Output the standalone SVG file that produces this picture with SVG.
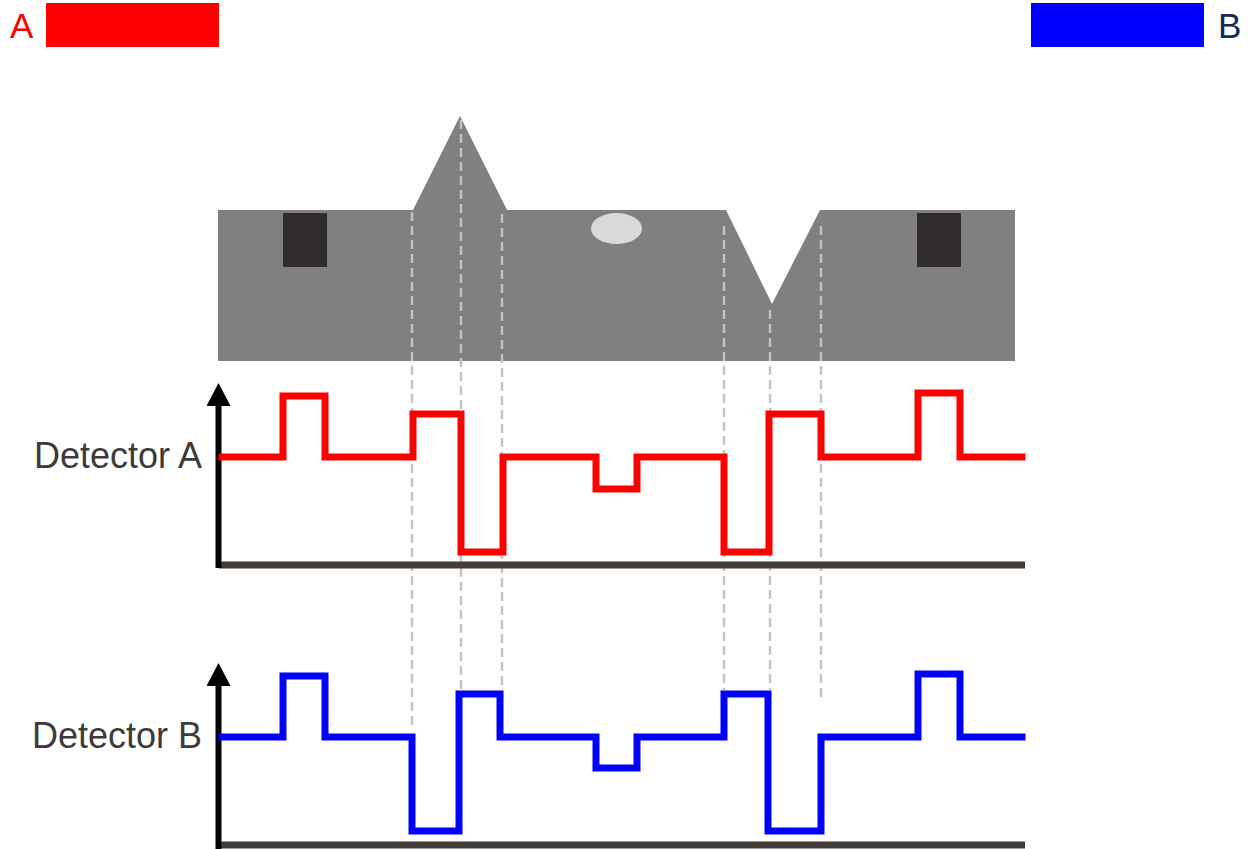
<svg xmlns="http://www.w3.org/2000/svg" width="1248" height="849" viewBox="0 0 1248 849">
<style>
.lbl{font-family:"Liberation Sans",Arial,sans-serif;font-size:35px}
.det{font-family:"Liberation Sans",Arial,sans-serif;font-size:36px;fill:#3d3a39}
.dash{stroke:#c3c3c3;stroke-width:2.4;stroke-dasharray:9,5;fill:none}
.sig{fill:none;stroke-width:7;stroke-linejoin:miter;stroke-linecap:square}
.yax{stroke:#000;stroke-width:6;fill:none}
.xax{stroke:#433d3a;stroke-width:7;fill:none}
.hole{fill:#302c2b}
</style>
<defs>
<marker id="arr" markerWidth="23" markerHeight="24" refX="0" refY="12" orient="auto" markerUnits="userSpaceOnUse" viewBox="0 0 23 24">
<path d="M0,0 L23,12 L0,24 Z" fill="#000"/>
</marker>
</defs>
<g id="legendA">
<text class="lbl" x="10" y="38" fill="#ff0000">A</text>
<rect x="46" y="3" width="173" height="44" fill="#ff0000"/>
</g>
<g id="legendB">
<rect x="1031" y="3" width="173" height="44" fill="#0000ff"/>
<text class="lbl" x="1218" y="38" fill="#142a5c">B</text>
</g>
<g id="specimen">
<path d="M218,210 L413,210 L460,116 L507,210 L726,210 L772,304 L820,210 L1015,210 L1015,361 L218,361 Z" fill="#808080"/>
<rect class="hole" x="283" y="213" width="44" height="54"/>
<rect class="hole" x="917" y="213" width="44" height="54"/>
<ellipse cx="616.5" cy="228.5" rx="25.5" ry="15.5" fill="#d9d9d9"/>
</g>
<g id="connectors">
<line class="dash" x1="412" y1="212" x2="412" y2="730"/>
<line class="dash" x1="461" y1="120" x2="461" y2="690"/>
<line class="dash" x1="502" y1="214" x2="502" y2="690"/>
<line class="dash" x1="724" y1="226" x2="724" y2="690"/>
<line class="dash" x1="770" y1="310" x2="770" y2="690"/>
<line class="dash" x1="821" y1="226" x2="821" y2="702"/>
</g>
<g id="detectorA">
<text class="det" x="202" y="468" text-anchor="end">Detector A</text>
<line class="xax" x1="219" y1="565" x2="1025" y2="565"/>
<line class="yax" x1="218.5" y1="568" x2="218.5" y2="406" marker-end="url(#arr)"/>
<path class="sig" stroke="#ff0000" d="M222,457 L283,457 L283,396 L325,396 L325,457 L413,457 L413,414 L461,414 L461,552 L503,552 L503,457 L596,457 L596,489 L637,489 L637,457 L724,457 L724,552 L769,552 L769,414 L821,414 L821,457 L918,457 L918,393 L960,393 L960,457 L1022,457"/>
</g>
<g id="detectorB">
<text class="det" x="202" y="748" text-anchor="end">Detector B</text>
<line class="xax" x1="219" y1="845" x2="1025" y2="845"/>
<line class="yax" x1="218.5" y1="849" x2="218.5" y2="686" marker-end="url(#arr)"/>
<path class="sig" stroke="#0000ff" d="M222,737 L283,737 L283,676 L325,676 L325,737 L412,737 L412,831 L459,831 L459,694 L500,694 L500,737 L596,737 L596,768 L637,768 L637,737 L724,737 L724,694 L768,694 L768,831 L821,831 L821,737 L918,737 L918,674 L960,674 L960,737 L1022,737"/>
</g>
</svg>
